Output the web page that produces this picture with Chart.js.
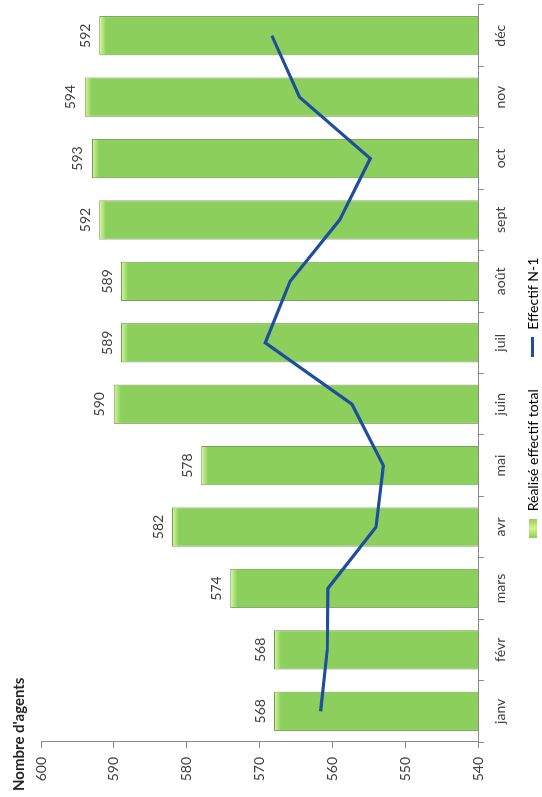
<!DOCTYPE html>
<html>
<head>
<meta charset="utf-8">
<script src="https://cdn.jsdelivr.net/npm/chart.js@4"></script>
<style>
  html, body { margin: 0; padding: 0; background: #fff; }
  body { width: 542px; height: 797px; position: relative; overflow: hidden; }
  #wrap { position: absolute; left: 0; top: 797px; width: 797px; height: 542px;
          transform-origin: 0 0; transform: rotate(-90deg); }
</style>
</head>
<body>
<div id="wrap"><canvas id="effectifs" width="797" height="542"></canvas></div>
<script>
// mois, effectif réalisé et effectif N-1
const mois = ['janv', 'févr', 'mars', 'avr', 'mai', 'juin', 'juil', 'août', 'sept', 'oct', 'nov', 'déc'];
const realise = [568, 568, 574, 582, 578, 590, 589, 589, 592, 593, 594, 592];
const effectifN1 = [561.6, 560.7, 560.6, 554.0, 553.0, 557.3, 569.2, 565.8, 559.0, 554.8, 564.5, 568.3];
const axeTicks = [540, 550, 560, 570, 580, 590, 600];

const vert = '#8ccf5c';
const bleu = '#1f4e9e';
const police = 'Lato, "Open Sans", sans-serif';
const gris = '#3f3f3f';

function barFill(c) {
  const chart = c.chart;
  if (!chart.chartArea || c.raw == null) return vert;
  const top = chart.scales.y.getPixelForValue(c.raw);
  const g = chart.ctx.createLinearGradient(0, top, 0, top + 7);
  g.addColorStop(0, '#dcf6a0');
  g.addColorStop(0.5, '#b3e37f');
  g.addColorStop(1, vert);
  return g;
}

// petits repères pour la légende
function keyBar() {
  const cv = document.createElement('canvas');
  cv.width = 19; cv.height = 8;
  const x = cv.getContext('2d');
  const g = x.createLinearGradient(0, 0, 19, 0);
  g.addColorStop(0, '#8fcf55');
  g.addColorStop(0.5, '#d5f28f');
  g.addColorStop(1, '#8fcf55');
  x.fillStyle = g;
  x.fillRect(0, 0, 19, 8);
  return cv;
}
function keyLine() {
  const cv = document.createElement('canvas');
  cv.width = 20; cv.height = 4;
  const x = cv.getContext('2d');
  x.fillStyle = bleu;
  x.fillRect(0, 0, 20, 3);
  return cv;
}
const keys = [keyBar(), keyLine()];

const valueLabels = {
  id: 'valueLabels',
  afterDatasetsDraw(chart) {
    const meta = chart.getDatasetMeta(1);
    const ctx = chart.ctx;
    ctx.save();
    ctx.font = '14px ' + police;
    ctx.fillStyle = gris;
    ctx.textAlign = 'center';
    ctx.textBaseline = 'bottom';
    meta.data.forEach((bar, i) => {
      ctx.fillText(realise[i], bar.x, bar.y - 7);
    });
    ctx.restore();
  }
};

new Chart(document.getElementById('effectifs'), {
  data: {
    labels: mois,
    datasets: [{
      type: 'line',
      label: 'Effectif N-1',
      data: effectifN1,
      borderColor: bleu,
      borderWidth: 3.2,
      pointRadius: 0,
      tension: 0
    }, {
      type: 'bar',
      label: 'Réalisé effectif total',
      data: realise,
      backgroundColor: barFill,
      borderColor: '#6f9f50',
      borderWidth: 1,
      categoryPercentage: 1,
      barPercentage: 0.64
    }]
  },
  options: {
    responsive: false,
    animation: false,
    layout: { padding: { left: 6, right: 5, top: 0, bottom: -8 } },
    scales: {
      x: {
        grid: { drawOnChartArea: false, tickLength: 6, color: '#8a8a8a' },
        border: { color: '#8a8a8a' },
        ticks: { font: { family: police, size: 14 }, color: gris, padding: 8, maxRotation: 0 },
        afterFit(scale) { scale.height = 47; }
      },
      y: {
        min: 540,
        max: 600,
        afterBuildTicks(scale) { scale.ticks = axeTicks.map(v => ({ value: v })); },
        grid: { drawOnChartArea: false, tickLength: 6, color: '#8a8a8a' },
        border: { color: '#8a8a8a' },
        ticks: { font: { family: police, size: 14 }, color: gris, padding: 9 },
        afterFit(scale) { scale.width = 49; }
      }
    },
    plugins: {
      title: {
        display: true,
        text: "Nombre d'agents",
        align: 'start',
        color: '#262626',
        font: { family: police, size: 15, weight: 'bold' },
        padding: { top: 10, bottom: 13 }
      },
      legend: {
        position: 'bottom',
        labels: {
          usePointStyle: true,
          pointStyleWidth: 20,
          boxHeight: 10,
          padding: 1,
          color: gris,
          font: { family: police, size: 14 },
          generateLabels(chart) {
            return [1, 0].map((i, k) => ({
              text: chart.data.datasets[i].label + (k === 0 ? '\u2003\u2003\u2003' : ''),
              pointStyle: keys[k],
              datasetIndex: i,
              hidden: false,
              lineWidth: 0,
              fillStyle: 'transparent',
              strokeStyle: 'transparent'
            }));
          }
        }
      },
      tooltip: { enabled: false }
    }
  },
  plugins: [valueLabels]
});
</script>
</body>
</html>
